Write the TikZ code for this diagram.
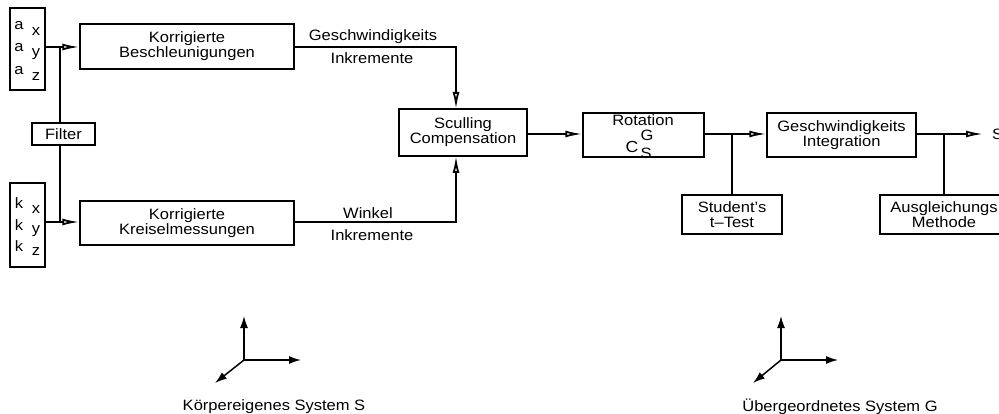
\documentclass[tikz,border=0pt]{standalone}
\usepackage{fontspec}
\setmainfont{Liberation Sans}[FakeStretch=1.1]
\usetikzlibrary{arrows.meta,calc}
\begin{document}
\begin{tikzpicture}[x=1pt,y=-1pt,
  every node/.style={font=\fontsize{15}{17}\selectfont},
  box/.style={draw,line width=1.5pt,align=center,inner sep=0pt},
  conn/.style={line width=1.5pt},
  flow/.style={conn,-{Latex[open,length=17pt,width=7pt,line width=1.8pt]}},
  axis/.style={line width=1.5pt,-{Latex[length=12pt,width=8pt]}},
  lbl/.style={inner sep=0pt}]
\useasboundingbox (0,0) rectangle (999,414);
% boxes
\node[box,minimum width=35pt,minimum height=82pt] (ax) at (27.5,49) {};
\node[box,minimum width=35pt,minimum height=84pt] (kx) at (27.5,225) {};
\node[box,minimum width=63pt,minimum height=22pt] (filter) at (63.5,134) {Filter};
\node[box,minimum width=214pt,minimum height=45pt] (kb) at (187,46.5) {Korrigierte\\[-2pt]Beschleunigungen};
\node[box,minimum width=214pt,minimum height=44pt] (kk) at (187,223) {Korrigierte\\[-2pt]Kreiselmessungen};
\node[box,minimum width=128pt,minimum height=47pt] (scul) at (463,132.5) {Sculling\\[-2pt]Compensation};
\node[box,minimum width=121pt,minimum height=44pt] (rot) at (643.5,135) {};
\node[box,minimum width=149pt,minimum height=44pt] (gi) at (841.5,135) {Geschwindigkeits\\[-2pt]Integration};
\node[box,minimum width=100pt,minimum height=39pt] (st) at (732,214.5) {Student's\\[-2pt]t\textendash Test};
\node[box,minimum width=128pt,minimum height=39pt] (am) at (944,214.5) {Ausgleichungs\\[-2pt]Methode};
% box contents
\node[lbl] (a1) at (19,26) {a}; \node[lbl] (x1) at (36,32) {x};
\node[lbl] (a2) at (19,48) {a}; \node[lbl] (y1) at (36,54) {y};
\node[lbl] (a3) at (19,71) {a}; \node[lbl] (z1) at (36,77) {z};
\node[lbl] (k1) at (19,203) {k}; \node[lbl] (x2) at (36,210) {x};
\node[lbl] (k2) at (19,225) {k}; \node[lbl] (y2) at (36,231) {y};
\node[lbl] (k3) at (19,246) {k}; \node[lbl] (z2) at (36,252) {z};
\node[lbl] (rl) at (643,120) {Rotation};
\node[lbl,font=\fontsize{16}{17}\selectfont] (c) at (632,147) {C};
\node[lbl] (g) at (647,135) {G};
\node[lbl] (s) at (646,153) {S};
% coordinates
\coordinate (j1) at (60,47);
\coordinate (j2) at (60,222);
\coordinate (st1) at (456,109);
\coordinate (sb1) at (456,156);
\coordinate (j3) at (732,134);
\coordinate (j4) at (944,134);
\coordinate (out) at (983,134);
% connectors
\draw[flow] (ax.east |- j1) -- (kb.west |- j1);
\draw[flow] (kx.east |- j2) -- (kk.west |- j2);
\draw[conn] (filter.north -| j1) -- (j1);
\draw[conn] (filter.south -| j2) -- (j2);
\draw[flow] (kb.east |- j1) -| (st1);
\draw[flow] (kk.east |- j2) -| (sb1);
\draw[flow] (scul.east |- j3) -- (rot.west |- j3);
\draw[flow] (rot.east |- j3) -- (gi.west |- j3);
\draw[conn] (j3) -- (st.north -| j3);
\draw[flow] (gi.east |- j4) -- (out);
\draw[conn] (j4) -- (am.north -| j4);
\node[lbl,anchor=west] (sout) at (992,134) {S};
% connector labels
\node[lbl] (l1) at (373,37) {Geschwindigkeits};
\node[lbl] (l2) at (372,58) {Inkremente};
\node[lbl] (l3) at (368,213) {Winkel};
\node[lbl] (l4) at (372,235) {Inkremente};
% axes
\coordinate (o1) at (244,360);
\coordinate (o1u) at (244,316);
\coordinate (o1r) at (301,360);
\coordinate (o1d) at (215,383);
\draw[axis] (o1) -- (o1u);
\draw[axis] (o1) -- (o1r);
\draw[axis] (o1) -- (o1d);
\node[lbl] (t1) at (274,407) {Körpereigenes System S};
\coordinate (o2) at (781,360);
\coordinate (o2u) at (781,316);
\coordinate (o2r) at (838,360);
\coordinate (o2d) at (753,383);
\draw[axis] (o2) -- (o2u);
\draw[axis] (o2) -- (o2r);
\draw[axis] (o2) -- (o2d);
\node[lbl] (t2) at (840,407) {Übergeordnetes System G};
\end{tikzpicture}
\end{document}
